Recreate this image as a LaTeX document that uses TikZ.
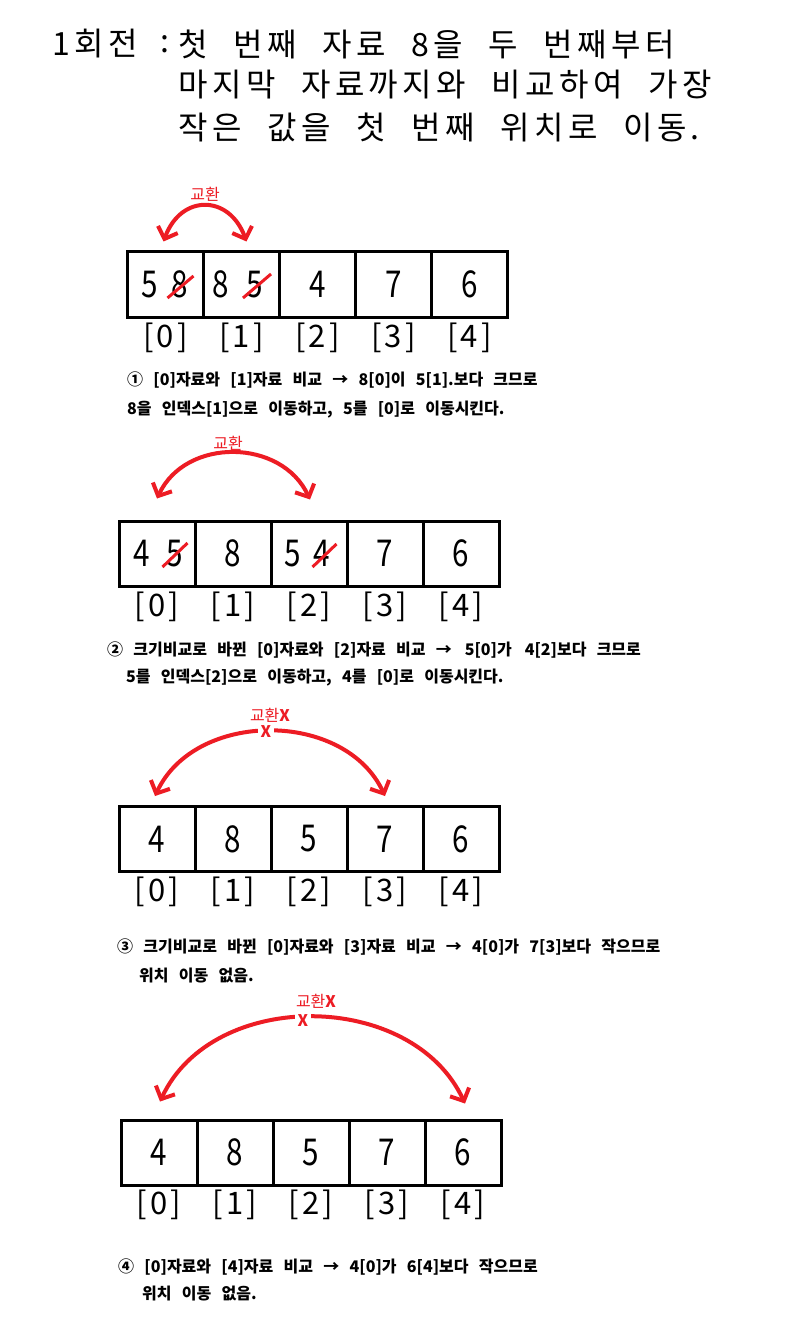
\documentclass[tikz,border=0pt]{standalone}
\usepackage{fontspec}
\usetikzlibrary{arrows.meta}
\newfontfamily\krfont{Noto Sans CJK KR}
\newfontfamily\ttlfont[LetterSpace=14,WordSpace=2.2]{Noto Sans CJK KR}
\newfontfamily\descfont[WordSpace=2.8]{Noto Sans CJK KR}
\definecolor{mark}{HTML}{ED1C24}
\newcommand{\nar}[1]{\scalebox{0.8}[1]{#1}}

\begin{document}
\begin{tikzpicture}[x=1pt,y=1pt,
    ttl/.style={anchor=west,inner sep=0pt,font=\ttlfont\fontsize{32}{32}\selectfont},
    cell/.style={draw,line width=3pt,minimum width=76pt,minimum height=65pt,inner sep=0pt,font=\krfont\fontsize{37}{37}\selectfont},
    digit/.style={inner sep=0pt,font=\krfont\fontsize{37}{37}\selectfont},
    idx/.style={inner sep=0pt,font=\krfont\fontsize{31}{31}\selectfont},
    desc/.style={anchor=west,inner sep=0pt,font=\descfont\bfseries\fontsize{16}{16}\selectfont},
    lbl/.style={inner sep=0pt,text=mark,font=\krfont\fontsize{16}{16}\selectfont},
    nox/.style={fill=white,inner sep=3pt,text=mark,font=\descfont\bfseries\fontsize{16}{16}\selectfont},
    xchg/.style={draw=mark,line width=4pt,{Straight Barb[length=10pt,width=21pt]}-{Straight Barb[length=10pt,width=21pt]}},
    strike/.style={draw=mark,line width=3pt},
]
\fill[white] (0,0) rectangle (786,-1329);

% Title
\node[ttl] (ttl) at (52,-44) {1회전};
\node[ttl] (colon) at (160,-44) {:};
\node[ttl] (ln1) at (178,-44) {첫 번째 자료 8을 두 번째부터};
\node[ttl] (ln2) at (178,-85) {마지막 자료까지와 비교하여 가장};
\node[ttl] (ln3) at (178,-127) {작은 값을 첫 번째 위치로 이동.};

% Step 1
\foreach \v [count=\i from 0] in {{},{},4,7,6}
  \node[cell] (a1c\i) at ({165.5+76*\i},-284.5) {\nar{\v}};
\foreach \i in {0,...,4}
  \node[idx] (a1i\i) at ({165.5+76*\i},-338) {[\hspace{3pt}\i\hspace{3pt}]};
\node[digit] (a1d0a) at (149.5,-284.5) {\nar{5}};
\node[digit] (a1d0b) at (179.5,-284.5) {\nar{8}};
\node[digit] (a1d1a) at (220.5,-284.5) {\nar{8}};
\node[digit] (a1d1b) at (255,-284.5) {\nar{5}};
\draw[strike] (a1d0b.center) ++(-12,-13.5) -- ++(26,22);
\draw[strike] (a1d1b.center) ++(-12,-13.5) -- ++(28,24);
\draw[xchg] ([shift={(-2,9)}]a1c0.north) to[out=70,in=110,looseness=1.56] ([shift={(5,9)}]a1c1.north);
\node[lbl] (a1x) at (205,-194) {교환};
\node[desc] (d1a) at (127,-380) {① [0]자료와 [1]자료 비교 → 8[0]이 5[1].보다 크므로};
\node[desc] (d1b) at (127,-410) {8을 인덱스[1]으로 이동하고, 5를 [0]로 이동시킨다.};

% Step 2
\foreach \v [count=\i from 0] in {{},8,{},7,6}
  \node[cell] (a2c\i) at ({157+76*\i},-553.5) {\nar{\v}};
\foreach \i in {0,...,4}
  \node[idx] (a2i\i) at ({157+76*\i},-607) {[\hspace{3pt}\i\hspace{3pt}]};
\node[digit] (a2d0a) at (141.5,-553.5) {\nar{4}};
\node[digit] (a2d0b) at (174.5,-553.5) {\nar{5}};
\node[digit] (a2d2a) at (292.5,-553.5) {\nar{5}};
\node[digit] (a2d2b) at (321.5,-553.5) {\nar{4}};
\draw[strike] (a2d0b.center) ++(-12,-13.5) -- ++(25,24);
\draw[strike] (a2d2b.center) ++(-9,-13.5) -- ++(24,23);
\draw[xchg] ([shift={(0,21)}]a2c0.north) to[out=65,in=115,looseness=1.13] ([shift={(1,20)}]a2c2.north);
\node[lbl] (a2x) at (228,-443) {교환};
\node[desc] (d2a) at (107,-650) {② 크기비교로 바뀐 [0]자료와 [2]자료 비교 →\, 5[0]가\, 4[2]보다 크므로};
\node[desc] (d2b) at (126,-678) {5를 인덱스[2]으로 이동하고, 4를 [0]로 이동시킨다.};

% Step 3
\foreach \v [count=\i from 0] in {4,8,5,7,6}
  \node[cell] (a3c\i) at ({157+76*\i},-839) {\nar{\v}};
\foreach \i in {0,...,4}
  \node[idx] (a3i\i) at ({157+76*\i},-892) {[\hspace{3pt}\i\hspace{3pt}]};
\draw[xchg] ([shift={(-2,9)}]a3c0.north) to[out=65,in=115,looseness=1.06] ([shift={(0,9)}]a3c3.north);
\node[nox] (a3n) at (266,-732) {X};
\node[lbl] (a3x) at (270,-715) {교환{\descfont\bfseries X}};
\node[desc] (d3a) at (117,-947) {③ 크기비교로 바뀐 [0]자료와 [3]자료 비교 → 4[0]가 7[3]보다 작으므로};
\node[desc] (d3b) at (139,-976) {위치 이동 없음.};

% Step 4
\foreach \v [count=\i from 0] in {4,8,5,7,6}
  \node[cell] (a4c\i) at ({159+76*\i},-1152.5) {\nar{\v}};
\foreach \i in {0,...,4}
  \node[idx] (a4i\i) at ({159+76*\i},-1205) {[\hspace{3pt}\i\hspace{3pt}]};
\draw[xchg] ([shift={(1,17)}]a4c0.north) to[out=65,in=115,looseness=1.05] ([shift={(2,15)}]a4c4.north);
\node[nox] (a4n) at (303,-1021) {X};
\node[lbl] (a4x) at (316,-1001) {교환{\descfont\bfseries X}};
\node[desc] (d4a) at (118,-1267) {④ [0]자료와 [4]자료 비교 → 4[0]가 6[4]보다 작으므로};
\node[desc] (d4b) at (142,-1293) {위치 이동 없음.};
\end{tikzpicture}
\end{document}
